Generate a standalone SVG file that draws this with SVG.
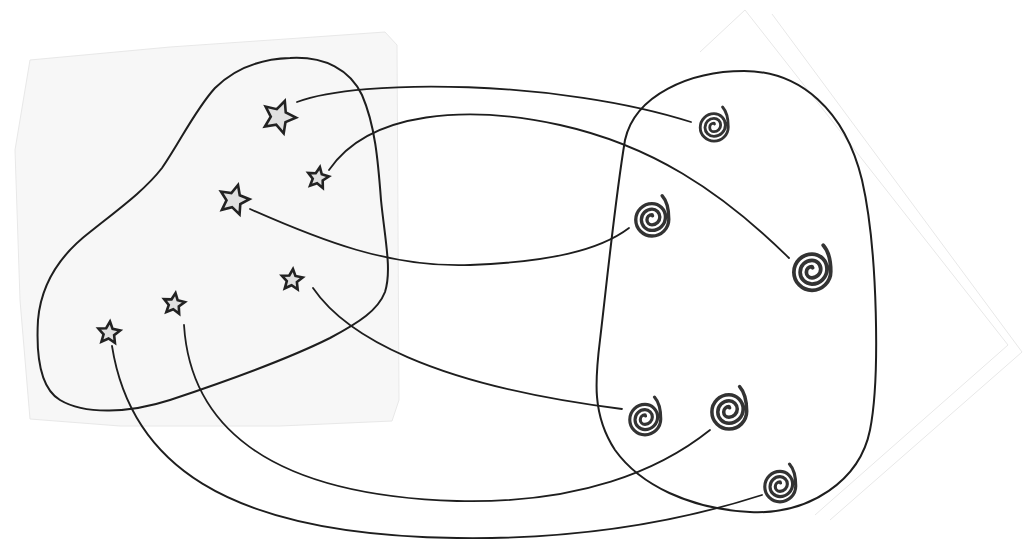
<svg xmlns="http://www.w3.org/2000/svg" xmlns:xlink="http://www.w3.org/1999/xlink" width="1023" height="546" viewBox="0 0 1023 546">
<style>
.paper{fill:#f7f7f7;stroke:#e8e8e8;stroke-width:1}
.edge{fill:none;stroke:#e8e8e8;stroke-width:1}
.blob{fill:none;stroke:#1e1e1e;stroke-width:2}
.conn{fill:none;stroke:#1e1e1e;stroke-width:1.8;stroke-linecap:round}
.star{fill:#e0e0e0;stroke:#222;stroke-width:2.6;stroke-linejoin:miter}
.spiral{fill:none;stroke:#333;stroke-width:3;stroke-linecap:round}
</style>
<defs>
<polygon id="starShape" vector-effect="non-scaling-stroke" points="0,-10 2.8,-3.9 9.51,-3.09 4.6,1.5 5.88,8.09 0,4.8 -5.88,8.09 -4.6,1.5 -9.51,-3.09 -2.8,-3.9"/>
<path id="spiralShape" d="M0.5,-1 Q0.3,-2 0,-2 A4.5 4.5 0 0 0 0,7 A7 7 0 0 0 0,-7 A9.5 9.5 0 0 0 0,12 A12 12 0 0 0 0,-12 A14.5 14.5 0 0 0 0,17 A15 15 0 0 0 15,2 C15,-7 13.5,-14 9,-19"/>
</defs>
<rect width="1023" height="546" fill="#fff"/>
<g id="paper">
<path class="paper" d="M30,60 L170,47 L300,38 L385,32 L397,45 L399,400 L392,421 L280,426 L120,426 L30,419 L20,300 L15,150 Z"/>
<path class="edge" d="M700,52 L745,10 L1008,345 L815,515"/>
<path class="edge" d="M772,14 L1022,352 L830,520"/>
</g>
<g id="set-stars">
<path class="blob" d="M290,58 C325,56 350,70 362,95 C375,125 378,160 381,200 C385,240 392,270 385,292 C378,310 360,322 330,338 C290,358 230,380 170,400 C130,413 85,415 60,400 C40,388 36,355 38,320 C41,285 60,255 90,232 C120,208 145,190 162,168 C180,142 195,110 215,88 C235,68 260,59 290,58 Z"/>
</g>
<g id="set-spirals">
<path class="blob" d="M744,71 C800,71 845,110 862,180 C878,250 880,380 870,430 C860,480 810,515 750,512 C690,509 640,485 615,450 C592,415 595,380 600,340 C606,290 615,200 625,140 C635,95 690,71 744,71 Z"/>
</g>
<g id="connectors">
<path class="conn" d="M297,102 C360,78 560,80 691,122"/>
<path class="conn" d="M329,170 C370,110 470,105 560,125 C650,145 720,190 789,258"/>
<path class="conn" d="M250,209 C320,240 390,268 470,265 C550,262 600,250 629,228"/>
<path class="conn" d="M313,288 C345,335 430,385 622,409"/>
<path class="conn" d="M184,325 C190,420 260,495 457,501 C580,504 660,470 710,430"/>
<path class="conn" d="M112,346 C130,460 220,535 457,538 C600,540 700,515 762,495"/>
</g>
<g id="star1"><use xlink:href="#starShape" class="star" transform="translate(279,117) rotate(20) scale(1.7)"/></g>
<g id="star2"><use xlink:href="#starShape" class="star" transform="translate(318,178) rotate(10) scale(1.1)"/></g>
<g id="star3"><use xlink:href="#starShape" class="star" transform="translate(234,200) rotate(15) scale(1.55)"/></g>
<g id="star4"><use xlink:href="#starShape" class="star" transform="translate(292,280) rotate(5) scale(1.1)"/></g>
<g id="star5"><use xlink:href="#starShape" class="star" transform="translate(174,304) rotate(8) scale(1.1)"/></g>
<g id="star6"><use xlink:href="#starShape" class="star" transform="translate(109,333) rotate(5) scale(1.15)"/></g>
<g id="spiral1"><use xlink:href="#spiralShape" class="spiral" transform="translate(714,125) scale(0.95)"/></g>
<g id="spiral2"><use xlink:href="#spiralShape" class="spiral" transform="translate(652,217) scale(1.12)"/></g>
<g id="spiral3"><use xlink:href="#spiralShape" class="spiral" transform="translate(812,269) scale(1.25)"/></g>
<g id="spiral4"><use xlink:href="#spiralShape" class="spiral" transform="translate(645,417) scale(1.05)"/></g>
<g id="spiral5"><use xlink:href="#spiralShape" class="spiral" transform="translate(729,409) scale(1.18)"/></g>
<g id="spiral6"><use xlink:href="#spiralShape" class="spiral" transform="translate(780,484) scale(1.05)"/></g>
</svg>
